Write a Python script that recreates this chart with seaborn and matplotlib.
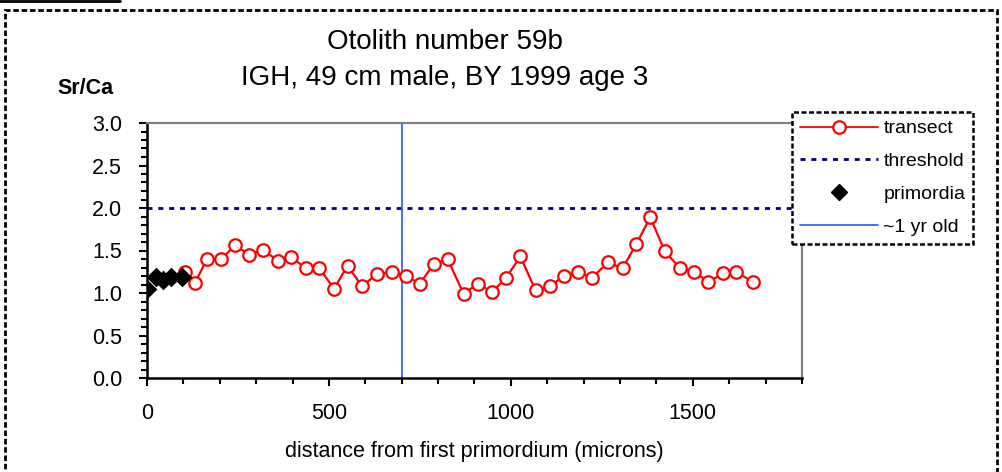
import matplotlib
matplotlib.use("Agg")
import matplotlib.pyplot as plt
import seaborn as sns
import pandas as pd
from matplotlib.lines import Line2D
from matplotlib.patches import Rectangle
from matplotlib.ticker import MultipleLocator, FormatStrFormatter

# ---- data ----
prim_x = [0, 25, 45, 66, 96]
prim_y = [1.05, 1.19, 1.15, 1.19, 1.19]

trans_x = [105, 132, 165, 203, 243, 281, 319, 359, 397, 437, 474, 514, 551, 591,
           631, 672, 711, 750, 788, 826, 870, 909, 948, 987, 1026, 1068, 1107,
           1146, 1185, 1223, 1267, 1307, 1345, 1383, 1423, 1465, 1504, 1543,
           1582, 1620, 1664]
trans_y = [1.25, 1.12, 1.40, 1.40, 1.56, 1.45, 1.51, 1.38, 1.42, 1.29, 1.29,
           1.05, 1.32, 1.08, 1.22, 1.25, 1.20, 1.11, 1.34, 1.40, 0.99, 1.11,
           1.01, 1.18, 1.43, 1.03, 1.08, 1.20, 1.25, 1.18, 1.36, 1.29, 1.58,
           1.89, 1.49, 1.29, 1.25, 1.13, 1.23, 1.25, 1.13]

threshold = 2.0
one_year = 702

title_lines = ["Otolith number 59b", "IGH, 49 cm male, BY 1999 age 3"]
y_label = "Sr/Ca"
x_label = "distance from first primordium (microns)"
x_tick_labels = ["0", "500", "1000", "1500"]
legend_labels = ["transect", "threshold", "primordia", "~1 yr old"]

# ---- style ----
sns.set_style("white")
plt.rcParams['font.family'] = ['Liberation Sans', 'DejaVu Sans']
plt.rcParams['text.color'] = 'black'
plt.rcParams['axes.labelcolor'] = 'black'
plt.rcParams['xtick.color'] = 'black'
plt.rcParams['ytick.color'] = 'black'

fig = plt.figure(figsize=(10.03, 4.72), dpi=100)
ax = fig.add_axes([147/1003, 1-378/472, (802-147)/1003, (378-123)/472])

RED = "#FF0000"
NAVY = "#000080"
BLUE = "#3366FF"
THR_LS = (0, (1.8, 2.1))

ax.axhline(threshold, color=NAVY, lw=2.0, ls=THR_LS, zorder=2)
ax.axvline(one_year, color=BLUE, lw=1.3, zorder=2)

df_t = pd.DataFrame({"x": trans_x, "y": trans_y})
sns.lineplot(data=df_t, x="x", y="y", ax=ax, color=RED, lw=1.6, marker="o",
             markersize=9, markerfacecolor="white", markeredgecolor=RED,
             markeredgewidth=1.6, sort=False, zorder=3)
df_p = pd.DataFrame({"x": prim_x, "y": prim_y})
sns.scatterplot(data=df_p, x="x", y="y", ax=ax, color="black", marker="D",
                s=100, edgecolor="black", linewidth=0, zorder=4)

ax.set_xlim(0, 1800)
ax.set_ylim(0, 3.0)
ax.xaxis.set_minor_locator(MultipleLocator(100))
ax.yaxis.set_major_locator(MultipleLocator(0.5))
ax.yaxis.set_minor_locator(MultipleLocator(0.1))
ax.set_xticks([0, 500, 1000, 1500])
ax.set_xticklabels(x_tick_labels)
ax.yaxis.set_major_formatter(FormatStrFormatter("%.1f"))
ax.tick_params(axis="both", which="major", direction="out", length=6, width=1.5,
               color="black", labelsize=15.5, labelcolor="black")
ax.tick_params(axis="both", which="minor", direction="out", length=4, width=1.5,
               color="black")
ax.tick_params(axis="x", which="major", pad=12)
ax.tick_params(axis="y", which="major", pad=12)
ax.tick_params(axis="y", which="both", left=True)
ax.tick_params(axis="x", which="both", bottom=True)

for side in ["top", "right"]:
    ax.spines[side].set_color("#808080")
    ax.spines[side].set_linewidth(1.6)
for side in ["left", "bottom"]:
    ax.spines[side].set_color("black")
    ax.spines[side].set_linewidth(1.8)
ax.spines["bottom"].set_linestyle((0, (2, 1)))

ax.set_xlabel(x_label, fontsize=15.5, labelpad=12, color="black")
ax.set_ylabel("")

fig.text(445/1003, 1-42/472, title_lines[0], ha="center", va="center", fontsize=20)
fig.text(445/1003, 1-78/472, title_lines[1], ha="center", va="center", fontsize=20)
fig.text(86/1003, 1-88/472, y_label, ha="center", va="center", fontsize=15.5,
         fontweight="bold")

handles = [
    Line2D([], [], color=RED, lw=1.3, marker="o", markersize=9,
           markerfacecolor="white", markeredgecolor=RED, markeredgewidth=1.6),
    Line2D([], [], color=NAVY, lw=2.0, ls=THR_LS),
    Line2D([], [], color="black", lw=0, marker="D", markersize=8.5),
    Line2D([], [], color=BLUE, lw=1.3),
]
leg = fig.legend(handles, legend_labels, loc="upper left",
                 bbox_to_anchor=(792/1003, 1-112/472), fontsize=14,
                 frameon=True, fancybox=False, framealpha=1, edgecolor="black",
                 handlelength=4.0, handletextpad=0.3, labelspacing=0.78,
                 borderpad=0.4, borderaxespad=0, markerscale=1.0)
leg.get_frame().set_linestyle((0, (2, 1)))
leg.get_frame().set_linewidth(1.8)
leg.set_zorder(10)
for t in leg.get_texts():
    t.set_color("black")

# outer dashed border and top-left underline
fig.patches.append(Rectangle((5/1003, -0.05), (997-5)/1003, 1-10/472 + 0.05,
                             transform=fig.transFigure, fill=False,
                             edgecolor="black", lw=2, ls=(0, (2, 1))))
fig.lines.append(Line2D([0, 120/1003], [1-1/472, 1-1/472], transform=fig.transFigure,
                        color="black", lw=2))

fig.savefig("out.png", dpi=100)
